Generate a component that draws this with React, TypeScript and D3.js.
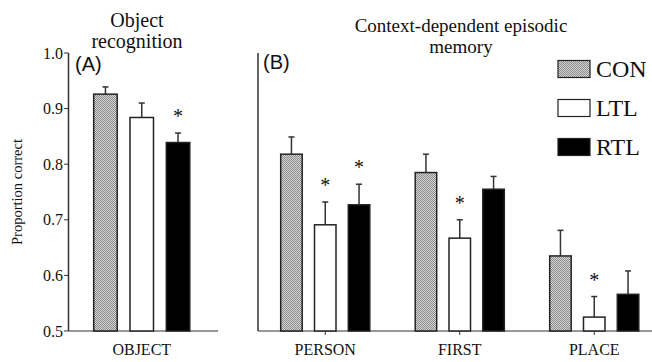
import React, { useEffect, useRef } from "react";
import * as d3 from "d3";

const groups = ["CON", "LTL", "RTL"];
const objectCategories = ["OBJECT"];
const objectMeans = [[0.926, 0.884, 0.839]];
const objectErrors = [[0.013, 0.026, 0.017]];
const objectStars = [[false, false, true]];

const episodicCategories = ["PERSON", "FIRST", "PLACE"];
const episodicMeans = [
  [0.818, 0.691, 0.727],
  [0.785, 0.667, 0.755],
  [0.635, 0.525, 0.566],
];
const episodicErrors = [
  [0.031, 0.041, 0.037],
  [0.033, 0.033, 0.023],
  [0.046, 0.037, 0.042],
];
const episodicStars = [
  [false, true, true],
  [false, true, false],
  [false, true, false],
];
const yTicks = [0.5, 0.6, 0.7, 0.8, 0.9, 1.0];

const W = 652;
const H = 362;
const SERIF = "'Liberation Serif', 'Times New Roman', serif";
const SANS = "'Liberation Sans', Arial, sans-serif";

export default function App() {
  const ref = useRef<SVGSVGElement | null>(null);

  useEffect(() => {
    const svg = d3.select(ref.current);
    svg.selectAll("*").remove();

    const defs = svg.append("defs");
    const pat = defs
      .append("pattern")
      .attr("id", "stipple")
      .attr("width", 2)
      .attr("height", 2)
      .attr("patternUnits", "userSpaceOnUse");
    pat.append("rect").attr("width", 2).attr("height", 2).attr("fill", "#d6d6d6");
    pat.append("rect").attr("x", 0).attr("y", 0).attr("width", 1).attr("height", 1).attr("fill", "#8a8a8a");
    pat.append("rect").attr("x", 1).attr("y", 1).attr("width", 1).attr("height", 1).attr("fill", "#8a8a8a");

    const fills: Record<string, string> = { CON: "url(#stipple)", LTL: "#ffffff", RTL: "#000000" };

    const y = d3.scaleLinear().domain([0.5, 1.0]).range([331, 53]);

    const drawPanel = (
      cats: string[],
      means: number[][],
      errs: number[][],
      stars: boolean[][],
      xRange: [number, number],
      axisEnd: number,
      innerHalf: number,
      barW: number,
      catTicks: boolean
    ) => {
      const x = d3.scaleBand<string>().domain(cats).range(xRange).padding(0);
      const inner = d3.scalePoint<string>().domain(groups).range([-innerHalf, innerHalf]);
      const x0 = xRange[0];
      svg.append("line").attr("x1", x0).attr("x2", x0).attr("y1", y(1.0)).attr("y2", y(0.5))
        .attr("stroke", "#333").attr("stroke-width", 1.5);
      svg.append("line").attr("x1", x0).attr("x2", axisEnd).attr("y1", y(0.5)).attr("y2", y(0.5))
        .attr("stroke", "#333").attr("stroke-width", 1.2);
      if (catTicks) {
        cats.forEach((c) => {
          const cx = (x(c) as number) + x.bandwidth() / 2;
          svg.append("line").attr("x1", cx).attr("x2", cx).attr("y1", y(0.5)).attr("y2", y(0.5) + 4)
            .attr("stroke", "#333").attr("stroke-width", 1);
        });
      }
      cats.forEach((c, ci) => {
        const cx = (x(c) as number) + x.bandwidth() / 2;
        svg.append("text").attr("x", cx).attr("y", 355).attr("text-anchor", "middle")
          .attr("font-family", SERIF).attr("font-size", 16).attr("fill", "#111").text(c);
        groups.forEach((g, gi) => {
          const bx = cx + (inner(g) as number);
          const m = means[ci][gi];
          const e = errs[ci][gi];
          svg.append("line").attr("x1", bx).attr("x2", bx).attr("y1", y(m)).attr("y2", y(m + e))
            .attr("stroke", "#333").attr("stroke-width", 1.5);
          svg.append("line").attr("x1", bx - 3).attr("x2", bx + 3).attr("y1", y(m + e)).attr("y2", y(m + e))
            .attr("stroke", "#333").attr("stroke-width", 1.5);
          svg.append("rect").attr("x", bx - barW / 2).attr("y", y(m)).attr("width", barW)
            .attr("height", y(0.5) - y(m)).attr("fill", fills[g]).attr("stroke", "#222").attr("stroke-width", 1.5);
          if (stars[ci][gi]) {
            svg.append("text").attr("x", bx).attr("y", y(m + e) - 10).attr("text-anchor", "middle")
              .attr("font-family", SERIF).attr("font-size", 20).attr("fill", "#111").text("*");
          }
        });
      });
    };

    drawPanel(objectCategories, objectMeans, objectErrors, objectStars, [68.5, 215], 218, 36.3, 23.5, false);
    drawPanel(episodicCategories, episodicMeans, episodicErrors, episodicStars, [258, 661.5], 652, 33.8, 21.5, true);

    yTicks.forEach((t) => {
      svg.append("line").attr("x1", 64).attr("x2", 68.5).attr("y1", y(t)).attr("y2", y(t))
        .attr("stroke", "#333").attr("stroke-width", 1);
      svg.append("text").attr("x", 63).attr("y", y(t) + 5.5).attr("text-anchor", "end")
        .attr("font-family", SERIF).attr("font-size", 16).attr("fill", "#111").text(d3.format(".1f")(t));
    });

    svg.append("text").attr("transform", `translate(22,192) rotate(-90)`).attr("text-anchor", "middle")
      .attr("font-family", SERIF).attr("font-size", 14.5).attr("fill", "#111").text("Proportion correct");

    const title = (lines: string[], cx: number, y0: number, fs: number) => {
      lines.forEach((l, i) => {
        svg.append("text").attr("x", cx).attr("y", y0 + i * 20.5).attr("text-anchor", "middle")
          .attr("font-family", SERIF).attr("font-size", fs).attr("fill", "#111").text(l);
      });
    };
    title(["Object", "recognition"], 137, 27, 20);
    title(["Context-dependent episodic", "memory"], 461, 32, 19);

    svg.append("text").attr("x", 75).attr("y", 71).attr("font-family", SANS).attr("font-size", 20)
      .attr("fill", "#111").text("(A)");
    svg.append("text").attr("x", 263).attr("y", 69).attr("font-family", SANS).attr("font-size", 20)
      .attr("fill", "#111").text("(B)");

    groups.forEach((g, i) => {
      const ly = 60.5 + i * 39;
      svg.append("rect").attr("x", 558).attr("y", ly).attr("width", 32).attr("height", 17)
        .attr("fill", fills[g]).attr("stroke", "#222").attr("stroke-width", 1.2);
      svg.append("text").attr("x", 596).attr("y", ly + 16.5).attr("font-family", SERIF).attr("font-size", 24)
        .attr("fill", "#111").text(g);
    });
  }, []);

  return (
    <svg
      ref={ref}
      width={W}
      height={H}
      style={{ position: "absolute", left: 0, top: 0, background: "#fff" }}
    />
  );
}
